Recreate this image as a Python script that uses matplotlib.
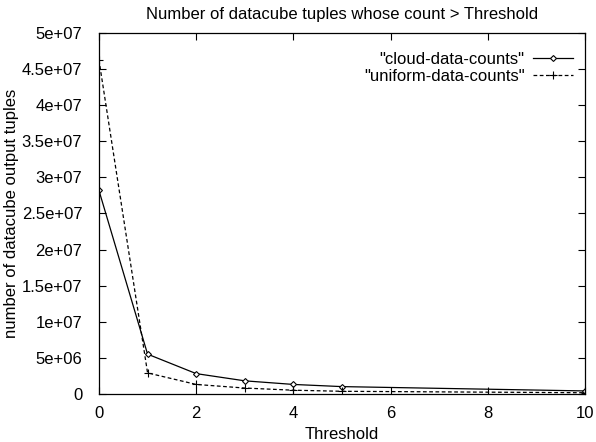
import matplotlib.pyplot as plt

plt.rcParams['font.family'] = ['Liberation Sans', 'DejaVu Sans']

x = [0, 1, 2, 3, 4, 5, 10]
y_cloud = [28.2e6, 5.5e6, 2.8e6, 1.8e6, 1.3e6, 1.0e6, 0.4e6]
y_uniform = [46.3e6, 2.9e6, 1.3e6, 0.8e6, 0.5e6, 0.35e6, 0.15e6]
ytick_labels = ['0', '5e+06', '1e+07', '1.5e+07', '2e+07', '2.5e+07',
                '3e+07', '3.5e+07', '4e+07', '4.5e+07', '5e+07']

fig = plt.figure(figsize=(5.96, 4.42), dpi=100)
ax = fig.add_axes([0.166, 0.109, 0.816, 0.816])

ax.plot(x, y_cloud, color='black', linewidth=0.9, marker='D', markersize=3,
        markerfacecolor='white', markeredgewidth=0.8, label='"cloud-data-counts"')
ax.plot(x, y_uniform, color='black', linewidth=0.9, linestyle='--', dashes=(3, 2),
        marker='+', markersize=6, markeredgewidth=0.8, label='"uniform-data-counts"')

ax.set_xlim(0, 10)
ax.set_ylim(0, 5e7)
ax.set_xticks(range(0, 11, 2))
ax.set_yticks([i * 5e6 for i in range(11)])
ax.set_yticklabels(ytick_labels)
ax.tick_params(direction='in', top=True, right=True, length=5, labelsize=12)
ax.tick_params(axis='y', pad=12)
ax.tick_params(axis='x', pad=9)
for s in ax.spines.values():
    s.set_linewidth(0.9)

ax.set_title('Number of datacube tuples whose count > Threshold', fontsize=12, pad=10)
ax.set_xlabel('Threshold', fontsize=12, labelpad=4)
ax.set_ylabel('number of datacube output tuples', fontsize=12, labelpad=2)

ax.legend(loc='upper right', bbox_to_anchor=(0.995, 0.975), frameon=False,
          markerfirst=False, fontsize=12, handlelength=2.4, borderaxespad=0.3,
          labelspacing=0.1, handletextpad=0.5, borderpad=0.3)

fig.savefig('out.png', dpi=100)
